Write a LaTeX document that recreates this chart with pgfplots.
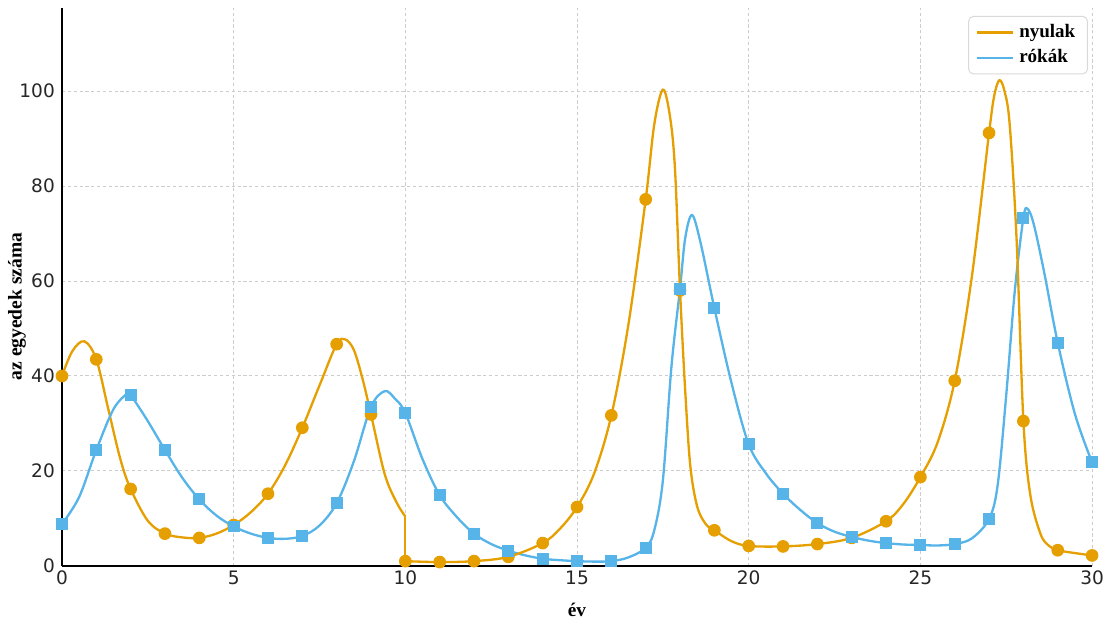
\documentclass[border=0pt]{standalone}
\usepackage{pgfplots}
\pgfplotsset{compat=1.18}
\usepackage{fontspec}
\setmainfont{Liberation Serif}
\newfontfamily\tickfont{DejaVu Sans}

\definecolor{nyul}{HTML}{E69F00}
\definecolor{roka}{HTML}{56B4E9}

\begin{document}
\begin{tikzpicture}
\begin{axis}[%
scale only axis,
width=422.5pt,
height=228.8pt,
xmin=0, xmax=30,
ymin=0, ymax=117.5,
xtick={0,5,...,30},
ytick={0,20,...,100},
axis x line*=bottom,
axis y line*=left,
axis line style={black, line width=0.6pt},
major tick length=0pt,
grid=major,
major grid style={dash pattern=on 1.3pt off 1.1pt, black!20, line width=0.4pt},
/pgf/number format/assume math mode=true,
ticklabel style={font=\tickfont\fontsize{7.6}{9}\selectfont, text=black!85},
xticklabel style={yshift=1.4pt},
yticklabel style={xshift=0.6pt},
xlabel={év},
ylabel={az egyedek száma},
xlabel style={font=\bfseries\fontsize{7.9}{9}\selectfont, inner sep=0.8pt, at={(axis description cs:0.5,-0.0787)}, anchor=center},
ylabel style={font=\bfseries\fontsize{8}{9}\selectfont, at={(axis description cs:-0.0436,0.465)}, anchor=center},
legend cell align=left,
legend style={at={(0.996,0.986)}, anchor=north east, draw=black!15, rounded corners=2pt,
  font=\bfseries\fontsize{7.8}{9}\selectfont, inner xsep=3pt, inner ysep=1.2pt,
  row sep=-0.6pt},
legend image code/.code={\draw[#1] (0cm,0cm) -- (0.52cm,0cm);},
]
% nyulak, smooth line (two pieces with the drop at 10)
\addplot[color=nyul, line width=0.95pt, smooth, tension=0.55] coordinates {
(0,40) (0.3,45.2) (0.65,47.3) (1,43.5) (1.35,33) (1.7,22.5) (2,16.2) (2.5,9.5)
(3,6.8) (3.5,6.0) (4,5.9) (4.5,6.8) (5,8.6) (5.5,11.3) (6,15.2) (6.5,21.2)
(7,29.1) (7.5,38) (8,46.7) (8.25,47.7) (8.5,45.5) (8.75,39.5) (9,31.9)
(9.4,19.3) (9.75,13.3) (10,10.4)
};
\addlegendentry{nyulak}
\addplot[color=roka, line width=0.95pt, smooth, tension=0.55] coordinates {
(0,8.8) (0.5,14.5) (1,24.4) (1.5,33) (1.9,36.3) (2,36) (2.5,30.5) (3,24.4)
(3.5,18.6) (4,14) (4.5,10.6) (5,8.3) (5.5,6.8) (6,5.9) (6.5,5.7) (7,6.3)
(7.5,8.5) (8,13.2) (8.5,22) (9,33.5) (9.4,36.8) (9.7,35.2) (10,32.2)
(10.5,22.5) (11,14.9) (11.5,10.3) (12,6.8) (12.5,4.6) (13,3.2) (13.5,2.2)
(14,1.5) (14.5,1.2) (15,1.0) (15.5,0.9) (16,1.0) (16.5,1.8) (17,3.8)
(17.25,7.5) (17.5,18) (17.75,42) (18,58.4) (18.15,69) (18.35,73.9) (18.6,68)
(19,54.3) (19.5,38.5) (20,25.6) (20.5,19.5) (21,15.2) (21.5,11.8) (22,9)
(22.5,7.2) (23,6.1) (23.5,5.3) (24,4.8) (24.5,4.5) (25,4.4) (25.5,4.3)
(26,4.6) (26.5,5.8) (27,9.9) (27.25,17) (27.5,36) (27.75,58) (28,73.3)
(28.12,75.2) (28.3,72) (28.6,62) (29,47) (29.5,32) (30,21.8)
};
\addlegendentry{rókák}
\addplot[color=nyul, line width=0.95pt, forget plot] coordinates {(10,10.4) (10,1.0)};
\addplot[color=nyul, line width=0.95pt, smooth, tension=0.55, forget plot] coordinates {
(10,1.0) (11,0.8) (12,1.0) (13,1.9) (14,4.8) (14.5,7.8) (15,12.4) (15.5,19.5)
(16,31.7) (16.5,51) (17,77.2) (17.25,93) (17.5,100.3) (17.7,95) (17.85,84)
(18,58) (18.15,37) (18.3,21) (18.5,12.5) (18.75,8.8) (19,7.5) (19.5,5.2)
(20,4.2) (21,4.1) (22,4.6) (23,5.9) (24,9.4) (24.5,13) (25,18.7) (25.5,26)
(26,39) (26.5,61) (27,91.2) (27.15,99) (27.3,102.3) (27.45,100) (27.6,93)
(27.8,69) (28,30.5) (28.2,15) (28.5,6.7) (28.75,4.2) (29,3.3) (29.5,2.7) (30,2.2)
};
% yearly observations
\addplot[only marks, mark=*, mark size=2.4pt, color=nyul, forget plot] coordinates {
(0,40) (1,43.5) (2,16.2) (3,6.8) (4,5.9) (5,8.6) (6,15.2) (7,29.1) (8,46.7)
(9,31.9) (10,1.0) (11,0.8) (12,1.0) (13,1.9) (14,4.8) (15,12.4) (16,31.7)
(17,77.2) (18,58) (19,7.5) (20,4.2) (21,4.1) (22,4.6) (23,5.9) (24,9.4)
(25,18.7) (26,39) (27,91.2) (28,30.5) (29,3.3) (30,2.2)
};
\addplot[only marks, mark=square*, mark size=2.25pt, color=roka, forget plot] coordinates {
(0,8.8) (1,24.4) (2,36) (3,24.4) (4,14) (5,8.3) (6,5.9) (7,6.3) (8,13.2)
(9,33.5) (10,32.2) (11,14.9) (12,6.8) (13,3.2) (14,1.5) (15,1.0) (16,1.0)
(17,3.8) (18,58.4) (19,54.3) (20,25.6) (21,15.2) (22,9) (23,6.1) (24,4.8)
(25,4.4) (26,4.6) (27,9.9) (28,73.3) (29,47) (30,21.8)
};
\end{axis}
\path ([yshift=3.3pt]current axis.north);
\end{tikzpicture}
\end{document}
